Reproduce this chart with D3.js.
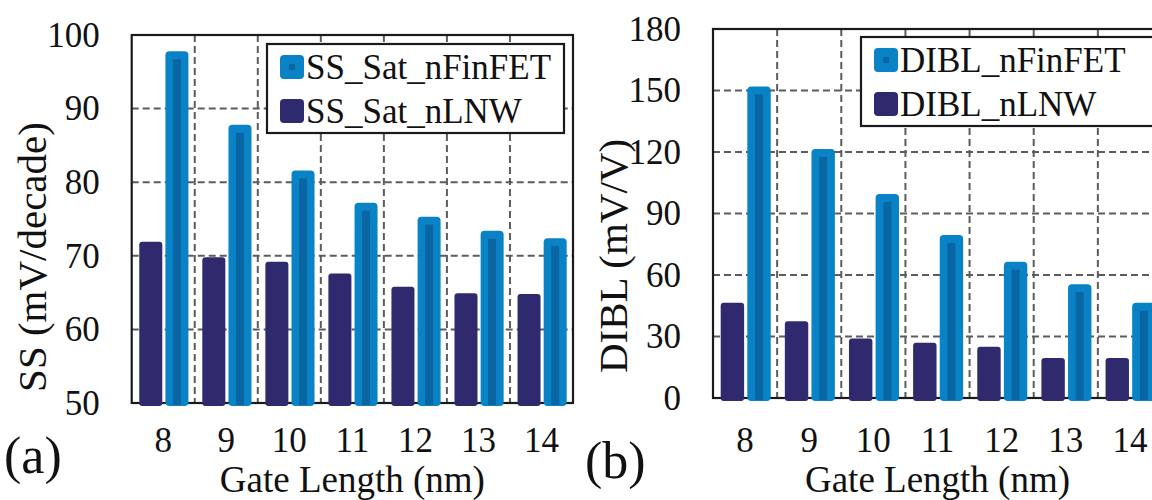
<!DOCTYPE html>
<html>
<head>
<meta charset="utf-8">
<script src="https://cdn.jsdelivr.net/npm/d3@7"></script>
<style>
	body { margin: 0; background: #fff; }
	svg { display: block; }
	text { font-family: "Liberation Serif", "Times New Roman", serif; fill: #111; }
</style>
</head>
<body>
<svg id="chart" width="1152" height="500"></svg>
<script>
// data
const gateLengths = [8, 9, 10, 11, 12, 13, 14];
const seriesKeys = ['lnw', 'finfet'];
const ssFinFET = [97.8, 87.8, 81.6, 77.2, 75.3, 73.4, 72.4];
const ssLNW = [71.9, 69.8, 69.2, 67.6, 65.8, 64.9, 64.8];
const diblFinFET = [152, 121.5, 99.5, 79.5, 66.5, 55.5, 46.5];
const diblLNW = [46.5, 37.5, 29, 27, 25, 19.5, 19.5];
const ssTicks = [50, 60, 70, 80, 90, 100];
const diblTicks = [0, 30, 60, 90, 120, 150, 180];

const colFin = '#0a83c6';
const colFinCore = '#0a66a2';
const colLnw = '#2f2a6e';
const fontName = '"Liberation Serif", "Times New Roman", serif';

const svg = d3.select('#chart');

/**
 * one bar panel (a) or (b)
 */
function drawPanel(p) {
	const g = svg.append('g');

	const x0 = d3.scaleBand()
		.domain(gateLengths)
		.range([p.left, p.right])
		.padding(0);
	const bw = x0.bandwidth();

	const x1 = d3.scaleBand()
		.domain(seriesKeys)
		.range([bw * 0.12, bw * 0.9])
		.paddingInner(0.12);

	const y = d3.scaleLinear()
		.domain(p.domain)
		.range([p.bottom, p.top]);

	// grid
	g.append('g')
		.selectAll('line')
		.data(p.ticks.slice(1, -1))
		.enter().append('line')
		.attr('x1', p.left).attr('x2', p.right)
		.attr('y1', d => y(d)).attr('y2', d => y(d))
		.attr('stroke', '#5c5c5c')
		.attr('stroke-width', 2)
		.attr('stroke-dasharray', '7,4');

	g.append('g')
		.selectAll('line')
		.data(gateLengths.slice(1))
		.enter().append('line')
		.attr('x1', d => x0(d)).attr('x2', d => x0(d))
		.attr('y1', p.top).attr('y2', p.bottom)
		.attr('stroke', '#5c5c5c')
		.attr('stroke-width', 2)
		.attr('stroke-dasharray', '7,4');

	// frame
	g.append('rect')
		.attr('x', p.left).attr('y', p.top)
		.attr('width', p.right - p.left)
		.attr('height', p.bottom - p.top)
		.attr('fill', 'none')
		.attr('stroke', '#1a1a1a')
		.attr('stroke-width', 2.2);

	// bars
	const rows = gateLengths.map((d, i) => ({ gl: d, lnw: p.lnw[i], finfet: p.finfet[i] }));
	const groups = g.append('g')
		.selectAll('g')
		.data(rows)
		.enter().append('g')
		.attr('transform', d => `translate(${x0(d.gl)},0)`);

	groups.append('rect')
		.attr('x', x1('lnw'))
		.attr('width', x1.bandwidth())
		.attr('y', d => y(d.lnw))
		.attr('height', d => p.bottom - y(d.lnw) + 3)
		.attr('rx', 3)
		.attr('fill', colLnw);

	groups.append('rect')
		.attr('x', x1('finfet'))
		.attr('width', x1.bandwidth())
		.attr('y', d => y(d.finfet))
		.attr('height', d => p.bottom - y(d.finfet) + 3)
		.attr('rx', 4)
		.attr('fill', colFin);

	groups.append('rect')
		.attr('x', x1('finfet') + x1.bandwidth() / 2 - 4)
		.attr('width', 8)
		.attr('y', d => y(d.finfet) + 8)
		.attr('height', d => p.bottom - y(d.finfet) - 6)
		.attr('fill', colFinCore);

	// axes
	const yAxis = g.append('g')
		.attr('transform', `translate(${p.left},0)`)
		.call(d3.axisLeft(y).tickValues(p.ticks).tickSize(0).tickPadding(32));
	yAxis.select('.domain').remove();
	yAxis.selectAll('text')
		.attr('font-size', 35)
		.attr('font-family', fontName)
		.attr('fill', '#111');

	const xAxis = g.append('g')
		.attr('transform', `translate(0,${p.bottom})`)
		.call(d3.axisBottom(x0).tickSize(0).tickPadding(452 - p.bottom - 24.8));
	xAxis.select('.domain').remove();
	xAxis.selectAll('text')
		.attr('font-size', 35)
		.attr('font-family', fontName)
		.attr('fill', '#111');

	// titles
	g.append('text')
		.attr('x', (p.left + p.right) / 2)
		.attr('y', 492)
		.attr('text-anchor', 'middle')
		.attr('font-size', 37)
		.text('Gate Length (nm)');

	g.append('text')
		.attr('transform', `translate(${p.yTitleX},${p.yTitleY}) rotate(-90)`)
		.attr('text-anchor', 'middle')
		.attr('font-size', 41)
		.text(p.yTitle);

	g.append('text')
		.attr('x', p.labelX)
		.attr('y', p.labelY)
		.attr('font-size', 52)
		.text(p.panelLabel);

	// legend
	const lg = g.append('g');
	lg.append('rect')
		.attr('x', p.legend.x).attr('y', p.legend.y)
		.attr('width', p.legend.w).attr('height', p.legend.h)
		.attr('fill', '#fff')
		.attr('stroke', '#1a1a1a')
		.attr('stroke-width', 2.2);

	p.legendNames.forEach((name, i) => {
		const sy = p.legend.y + 11 + i * 44;
		const sx = p.legend.x + 13;
		lg.append('rect')
			.attr('x', sx).attr('y', sy)
			.attr('width', 24).attr('height', 24)
			.attr('rx', 4)
			.attr('fill', i === 0 ? colFin : colLnw);
		if (i === 0) {
			lg.append('rect')
				.attr('x', sx + 9).attr('y', sy + 9)
				.attr('width', 6).attr('height', 6)
				.attr('fill', colFinCore);
		}
		lg.append('text')
			.attr('x', sx + 26)
			.attr('y', sy + 24)
			.attr('font-size', 35)
			.text(name);
	});
}

drawPanel({
	left: 131.7, right: 573, top: 35, bottom: 403,
	domain: [50, 100], ticks: ssTicks,
	finfet: ssFinFET, lnw: ssLNW,
	legendNames: ['SS_Sat_nFinFET', 'SS_Sat_nLNW'],
	legend: { x: 267, y: 44, w: 297, h: 89 },
	yTitle: 'SS (mV/decade)', yTitleX: 46, yTitleY: 257,
	panelLabel: '(a)', labelX: 4, labelY: 473
});

drawPanel({
	left: 713, right: 1162, top: 29, bottom: 398,
	domain: [0, 180], ticks: diblTicks,
	finfet: diblFinFET, lnw: diblLNW,
	legendNames: ['DIBL_nFinFET', 'DIBL_nLNW'],
	legend: { x: 861, y: 37, w: 320, h: 89 },
	yTitle: 'DIBL (mV/V)', yTitleX: 627, yTitleY: 256,
	panelLabel: '(b)', labelX: 585, labelY: 478
});
</script>
</body>
</html>
